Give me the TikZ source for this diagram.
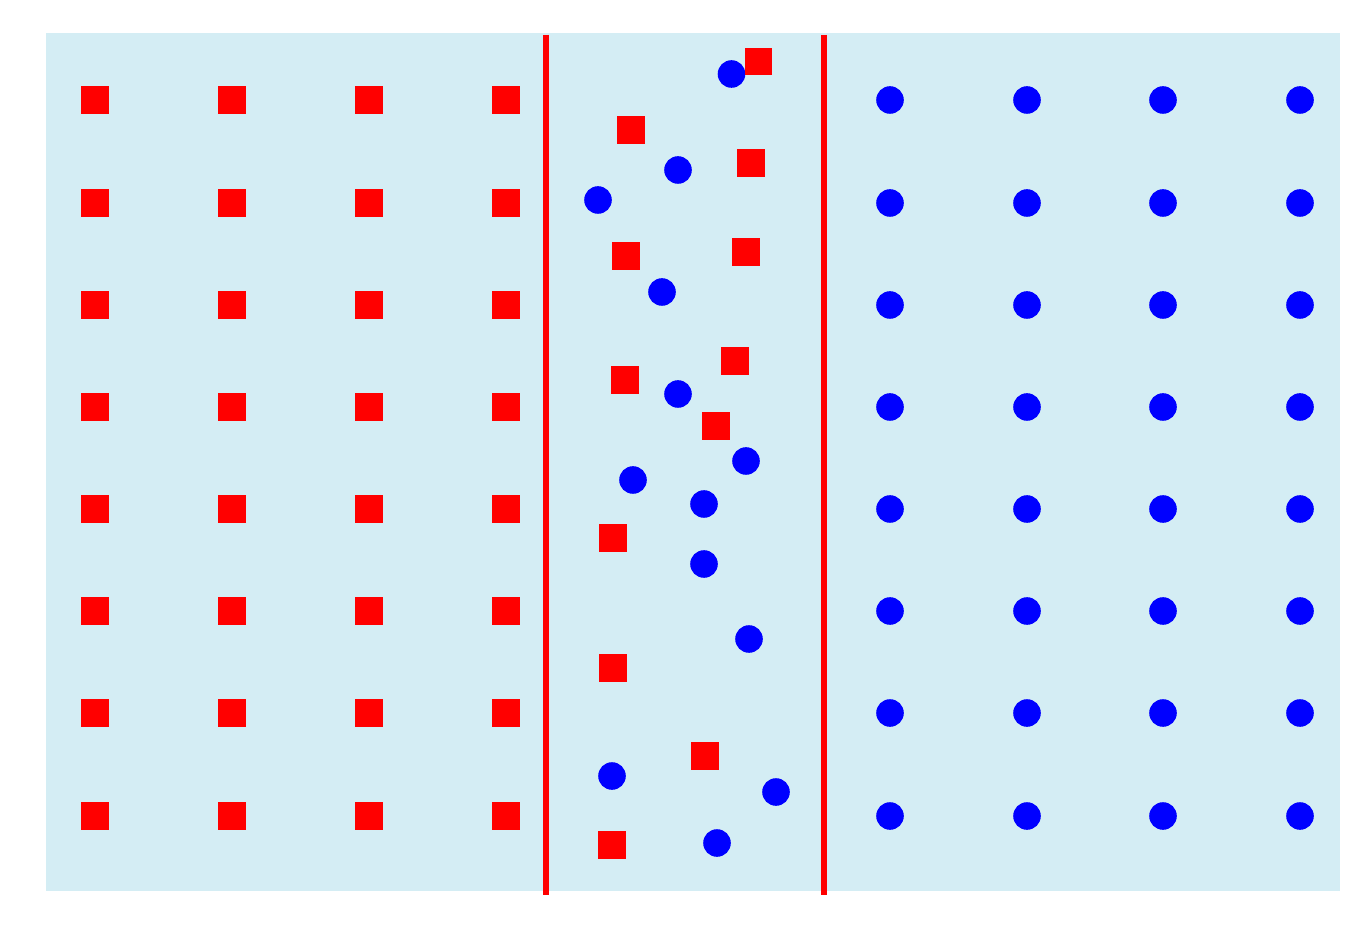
\documentclass[tikz,border=0pt]{standalone}
\definecolor{bgblue}{RGB}{212,237,244}
\definecolor{sqred}{RGB}{255,0,0}
\definecolor{dotblue}{RGB}{0,0,255}
\tikzset{
  redsq/.style={fill=sqred},
  bluedot/.style={fill=dotblue},
  divider/.style={draw=sqred,line width=2.6pt}
}
\newcommand{\sq}[2]{\fill[redsq] (#1-13.8,#2-13.8) rectangle (#1+13.8,#2+13.8);}
\newcommand{\dt}[2]{\fill[bluedot] (#1,#2) circle (13.8);}
\begin{document}
\begin{tikzpicture}[x=0.5pt,y=-0.5pt]
\useasboundingbox (0,0) rectangle (1366,930);
\fill[bgblue] (45.5,33) rectangle (1340,891);
% left grid of squares
\foreach \x in {95,232,369,506}{
  \foreach \y in {100,203,305,407,509,611,713,816}{
    \fill[redsq] (\x-13.8,\y-13.8) rectangle (\x+13.8,\y+13.8);
  }
}
% right grid of dots
\foreach \x in {890,1027,1163,1300}{
  \foreach \y in {100,203,305,407,509,611,713,816}{
    \fill[bluedot] (\x,\y) circle (13.8);
  }
}
% middle dots
\foreach \x/\y in {731.5/74,678/170,598/200,662/292,678/394,746/461,633/480,704/504,704/564,749/639,612/776,776/792,717/843}{
  \fill[bluedot] (\x,\y) circle (13.8);
}
% middle squares
\foreach \x/\y in {758.5/61.5,631/130,751/163,626/256,746/252,735/361,625/380,716/426,613/538,613/668,705/756,612/845}{
  \fill[redsq] (\x-13.8,\y-13.8) rectangle (\x+13.8,\y+13.8);
}
% dividers
\draw[divider] (546,35) -- (546,895);
\draw[divider] (824,35) -- (824,895);
\end{tikzpicture}
\end{document}
